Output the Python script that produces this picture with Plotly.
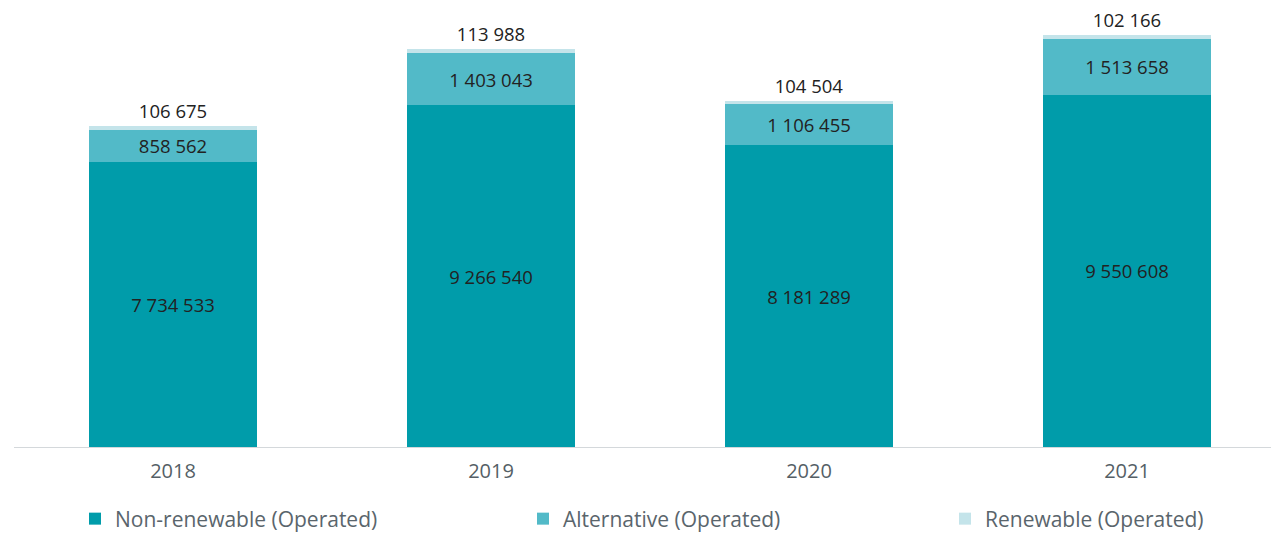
import plotly.graph_objects as go

years = ['2018', '2019', '2020', '2021']
non_renewable = [7734533, 9266540, 8181289, 9550608]
alternative = [858562, 1403043, 1106455, 1513658]
renewable = [106675, 113988, 104504, 102166]

series = [
  ('Non-renewable (Operated)', non_renewable, '#009caa', 'inside', 'legend'),
  ('Alternative (Operated)', alternative, '#52bac8', 'inside', 'legend2'),
  ('Renewable (Operated)', renewable, '#c4e4ea', 'outside', 'legend3'),
]


def fmt(v):
  return f"{v:,}".replace(",", " ")


fig = go.Figure()
for name, vals, color, pos, leg in series:
  fig.add_trace(
    go.Bar(
      name=name,
      x=years,
      y=vals,
      legend=leg,
      showlegend=True,
      marker=dict(color=color, line=dict(width=0)),
      text=[fmt(v) for v in vals],
      textposition=pos,
      insidetextanchor='middle',
      textangle=0,
      constraintext='none',
      textfont=dict(size=18.5, color='#222222', family='Open Sans'),
      cliponaxis=False,
    )
  )

# page has an 8px body margin, so the figure is sized and placed with that in mind
W = 1265
L = 6
legend_font = dict(size=21, color='#5a656c', family='Open Sans')


def leg_at(px):
  return dict(
    orientation='h', x=(px - L) / W, y=-0.164, xanchor='left', yanchor='middle',
    font=legend_font, bgcolor='rgba(0,0,0,0)',
  )


fig.update_layout(
  barmode='stack',
  bargap=0.469,
  width=1271,
  height=528,
  showlegend=True,
  margin=dict(l=L, r=0, t=0, b=89, autoexpand=False),
  paper_bgcolor='white',
  plot_bgcolor='white',
  font=dict(family='Open Sans', color='#555f66'),
  xaxis=dict(
    showline=True, linecolor='#d4d8db', linewidth=1,
    tickfont=dict(size=20, color='#555f66'), ticks='', showgrid=False,
    ticklabelstandoff=6, range=[-0.5, 3.478],
  ),
  yaxis=dict(visible=False, range=[0, 11900000]),
  legend=leg_at(67),
  legend2=leg_at(515),
  legend3=leg_at(937),
  uniformtext=dict(mode=False),
)

fig.write_html("out.html")
